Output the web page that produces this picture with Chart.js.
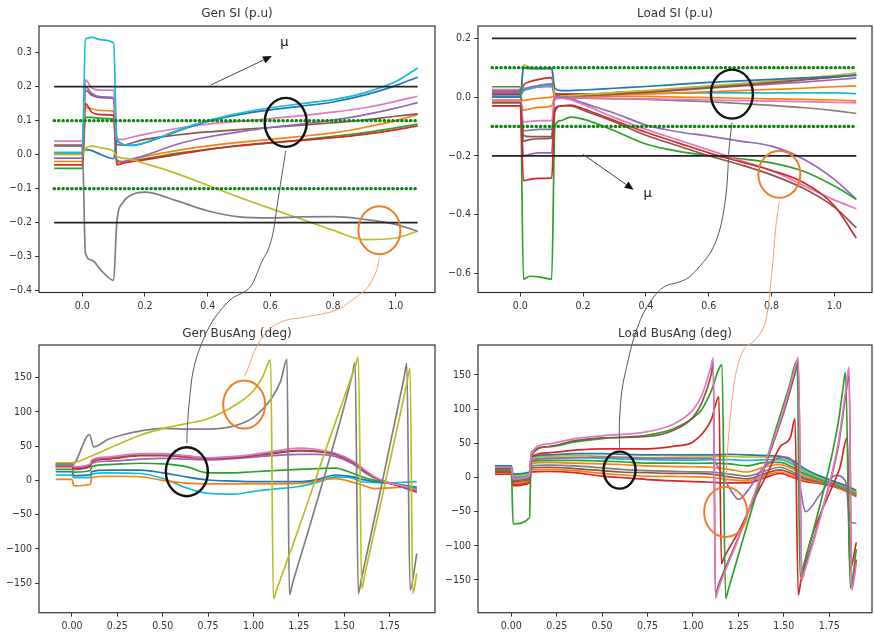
<!DOCTYPE html>
<html>
<head>
<meta charset="utf-8">
<style>
  body { margin: 0; background: #fff; }
  #wrap { position: relative; width: 874px; height: 637px; overflow: hidden; }
  #wrap canvas { position: absolute; }
</style>
</head>
<body>
<div id="wrap">
  <canvas id="genSI" width="437" height="320" style="left:0;top:0"></canvas>
  <canvas id="loadSI" width="437" height="320" style="left:437px;top:0"></canvas>
  <canvas id="genAng" width="437" height="317" style="left:0;top:320px"></canvas>
  <canvas id="loadAng" width="437" height="317" style="left:437px;top:320px"></canvas>
  <canvas id="links" width="874" height="637" style="left:0;top:0;pointer-events:none"></canvas>
</div>

<script src="https://cdn.jsdelivr.net/npm/chart.js"></script>
<script>
// ---- time axes ----
const tTop = [-0.09, 0, 0.01, 0.03, 0.06, 0.1, 0.11, 0.13, 0.16, 0.2, 0.3, 0.4, 0.5, 0.6, 0.7, 0.8, 0.9, 1.0, 1.07];
const tRef = [-0.09, 1.07];

// ---- Gen SI (p.u) ----
const gsCyan   = [0.007, 0.007, 0.34, 0.345, 0.338, 0.328, 0.05, 0.03, 0.028, 0.035, 0.07, 0.1, 0.122, 0.138, 0.15, 0.162, 0.182, 0.215, 0.255];
const gsBlue   = [0.005, 0.005, 0.015, 0.012, 0.0, -0.012, 0.04, 0.03, 0.027, 0.035, 0.068, 0.098, 0.118, 0.132, 0.143, 0.155, 0.175, 0.203, 0.228];
const gsPink   = [0.04, 0.04, 0.22, 0.197, 0.19, 0.19, 0.045, 0.045, 0.052, 0.06, 0.077, 0.09, 0.098, 0.106, 0.115, 0.125, 0.138, 0.157, 0.172];
const gsPurple = [-0.01, -0.01, 0.2, 0.18, 0.17, 0.168, -0.015, -0.02, -0.012, -0.002, 0.03, 0.052, 0.067, 0.08, 0.09, 0.102, 0.117, 0.137, 0.153];
const gsBrown  = [0.028, 0.028, 0.19, 0.175, 0.168, 0.165, 0.03, 0.028, 0.035, 0.045, 0.058, 0.067, 0.074, 0.08, 0.087, 0.094, 0.102, 0.113, 0.12];
const gsOrange = [-0.02, -0.02, 0.14, 0.135, 0.13, 0.128, -0.025, -0.022, -0.015, -0.005, 0.012, 0.026, 0.036, 0.045, 0.054, 0.064, 0.08, 0.1, 0.118];
const gsRed    = [-0.03, -0.03, 0.15, 0.125, 0.118, 0.115, -0.03, -0.025, -0.02, -0.015, 0.0, 0.015, 0.027, 0.035, 0.042, 0.05, 0.06, 0.073, 0.085];
const gsGreen  = [-0.04, -0.04, 0.11, 0.11, 0.107, 0.105, -0.02, -0.022, -0.018, -0.012, 0.004, 0.016, 0.026, 0.035, 0.044, 0.054, 0.065, 0.079, 0.09];
const gsOlive  = [0.0, 0.0, 0.018, 0.025, 0.02, 0.01, -0.005, -0.01, -0.015, -0.026, -0.055, -0.09, -0.125, -0.158, -0.19, -0.222, -0.25, -0.245, -0.225];
const gsGray   = [0.025, 0.025, -0.29, -0.31, -0.34, -0.37, -0.2, -0.14, -0.117, -0.11, -0.135, -0.165, -0.183, -0.186, -0.183, -0.182, -0.19, -0.205, -0.225];

// ---- Load SI (p.u) ----
const lsGreen   = [0.035, 0.035, -0.62, -0.61, -0.612, -0.62, -0.1, -0.08, -0.068, -0.075, -0.115, -0.16, -0.184, -0.199, -0.21, -0.224, -0.252, -0.303, -0.348];
const lsRed     = [-0.03, -0.03, -0.285, -0.28, -0.277, -0.275, -0.05, -0.03, -0.027, -0.04, -0.08, -0.12, -0.155, -0.19, -0.22, -0.25, -0.29, -0.37, -0.48];
const lsBrown   = [-0.02, -0.02, -0.15, -0.145, -0.142, -0.14, -0.04, -0.03, -0.03, -0.045, -0.085, -0.13, -0.165, -0.2, -0.23, -0.265, -0.31, -0.375, -0.445];
const lsPink    = [-0.01, -0.01, -0.085, -0.083, -0.08, -0.08, -0.01, -0.005, -0.01, -0.025, -0.07, -0.11, -0.145, -0.18, -0.215, -0.25, -0.3, -0.35, -0.38];
const lsPurple  = [0.02, 0.02, -0.2, -0.195, -0.19, -0.19, 0.0, 0.0, -0.005, -0.02, -0.055, -0.095, -0.118, -0.133, -0.15, -0.167, -0.21, -0.28, -0.348];
const lsBlue    = [0.0, 0.0, 0.1, 0.097, 0.097, 0.098, 0.03, 0.022, 0.022, 0.024, 0.03, 0.036, 0.043, 0.05, 0.055, 0.06, 0.065, 0.07, 0.074];
const lsOlive   = [-0.03, -0.03, 0.11, 0.1, 0.097, 0.096, 0.0, 0.003, 0.005, 0.008, 0.015, 0.022, 0.03, 0.038, 0.046, 0.055, 0.064, 0.074, 0.082];
const lsRed2    = [0.01, 0.01, 0.04, 0.052, 0.06, 0.066, 0.012, 0.01, 0.01, 0.01, 0.015, 0.02, 0.028, 0.036, 0.044, 0.052, 0.06, 0.068, 0.075];
const lsPurple2 = [0.015, 0.015, 0.025, 0.033, 0.04, 0.045, 0.01, 0.008, 0.008, 0.008, 0.012, 0.017, 0.023, 0.03, 0.037, 0.044, 0.051, 0.059, 0.065];
const lsCyan    = [0.005, 0.005, 0.02, 0.028, 0.035, 0.04, 0.01, 0.01, 0.01, 0.01, 0.011, 0.012, 0.013, 0.014, 0.014, 0.014, 0.014, 0.014, 0.012];
const lsOrange  = [0.0, 0.0, -0.012, -0.008, -0.004, 0.0, 0.005, 0.005, 0.005, 0.006, 0.008, 0.011, 0.014, 0.018, 0.022, 0.026, 0.03, 0.035, 0.038];
const lsOrange2 = [-0.015, -0.015, -0.045, -0.04, -0.035, -0.03, 0.0, 0.003, 0.003, 0.003, 0.003, 0.002, 0.0, -0.002, -0.004, -0.006, -0.008, -0.01, -0.013];
const lsPink2   = [0.025, 0.025, 0.03, 0.032, 0.034, 0.035, 0.0, 0.0, -0.001, -0.002, -0.004, -0.006, -0.008, -0.01, -0.012, -0.014, -0.016, -0.018, -0.02];
const lsGray    = [-0.01, -0.01, -0.115, -0.113, -0.11, -0.11, 0.0, -0.002, -0.003, -0.004, -0.006, -0.008, -0.012, -0.016, -0.022, -0.028, -0.036, -0.046, -0.056];
const lsBrown2  = [0.02, 0.02, -0.13, -0.135, -0.135, -0.135, 0.002, 0.003, 0.004, 0.005, 0.01, 0.016, 0.024, 0.032, 0.04, 0.049, 0.058, 0.068, 0.076];

// ---- limit lines of the SI panels ----
const siLimit = [0.2, -0.2];
const siBand  = [0.1, -0.1];

// ---- Gen BusAng (deg) ----
const tGA = [-0.09, 0, 0.01, 0.1, 0.11, 0.2, 0.375, 0.5, 0.63, 0.75, 0.9, 1.0, 1.1, 1.25, 1.35, 1.45, 1.55, 1.6, 1.67, 1.75, 1.82, 1.9];
const gaPink   = [22, 22, 20, 24, 30, 34, 39, 39, 36, 33, 35, 38, 42, 47, 45, 40, 28, 18, 5, -4, -8, -14];
const gaRed    = [20, 20, 17, 21, 27, 31, 36, 36, 34, 32, 33, 36, 39, 43, 42, 38, 26, 16, 4, -4, -9, -16];
const gaPurple = [22, 22, 16, 20, 25, 28, 31, 32, 31, 30, 32, 34, 36, 38, 38, 35, 24, 14, 3, -4, -10, -18];
const gaBrown  = [24, 24, 19, 23, 29, 33, 37, 37, 35, 33, 34, 37, 40, 44, 43, 39, 27, 17, 4, -4, -9, -15];
const gaGreen  = [16, 16, 12, 14, 20, 23, 25, 24, 20, 11, 11, 12.6, 14, 16, 17, 18, 10, 5, 0, -4, -8, -12];
const gaBlue   = [12.6, 12.6, 7, 8, 13, 15, 15, 11, 5, 0.5, -1, -2, -2, -2, 1, 7.8, 5, 1.5, -2, -4.4, -7, -10];
const gaCyan   = [7.7, 7.7, 4, 4, 9, 11, 10, 3, -11, -19, -20, -16, -13, -9, -3, 5, 3, -2, -3, -4, -3, -2];
const gaOrange = [1.5, 1.5, -8, -6, 4, 6, 5.3, 0, -4, -5, -5, -5, -5, -4.4, -1, 3, -3, -6.8, -12, -11, -10, -12];
const gaOliveT = [-0.09, 0, 0.11, 0.375, 0.5, 0.63, 0.75, 0.9, 1.0, 1.05, 1.095, 1.11, 1.13, 1.25, 1.4, 1.5, 1.56, 1.578, 1.597, 1.615, 1.7, 1.8, 1.845, 1.863, 1.878, 1.9];
const gaOlive  = [25.7, 25.7, 36, 66, 75.7, 83, 90, 110, 131, 151, 176, -173, -158, -70, 46, 121, 166, 180, -158, -136, -35, 86, 142, 164, -165, -136];
const gaGrayT  = [-0.09, 0, 0.097, 0.119, 0.2, 0.3, 0.375, 0.5, 0.63, 0.75, 0.9, 1.0, 1.1, 1.15, 1.185, 1.198, 1.215, 1.3, 1.4, 1.5, 1.545, 1.56, 1.578, 1.595, 1.7, 1.8, 1.83, 1.845, 1.863, 1.9];
const gaGray   = [22, 22, 67, 49, 60, 68, 72, 76, 75, 75, 80, 92, 120, 145, 177, -167, -151, -76, 14, 108, 155, 172, -165, -144, -15, 112, 150, 171, -160, -107];

// ---- Load BusAng (deg) ----
const tLA = [-0.09, 0, 0.01, 0.1, 0.11, 0.2, 0.35, 0.5, 0.6, 0.75, 0.9, 1.0, 1.1, 1.2, 1.3, 1.4, 1.48, 1.55, 1.62, 1.7, 1.78, 1.85, 1.9];
const laBlue    = [17, 17, 5, 8, 30, 33, 35, 35, 34, 33, 33, 33, 33, 34, 33, 32, 31, 25, 12, 2, -6, -13, -19];
const laOlive   = [15, 15, 3, 6, 28, 31, 32, 31, 30, 29, 29.5, 30, 30, 31, 30, 30, 29, 22, 10, 0, -7, -14, -21];
const laCyan    = [14, 14, 1, 4, 26, 28, 29, 28, 27, 26, 25.5, 25.5, 26, 26, 25, 26, 26, 19, 8, -1, -8, -15, -22];
const laGreen   = [13, 13, 0, 3, 23, 25, 25, 24, 23, 21, 21, 20.6, 21, 20, 17, 22, 22, 15, 5, -3, -9, -16, -23];
const laOrange  = [12, 12, -2, 1, 20, 22, 21, 20, 19, 17, 16, 15.7, 15, 12, 8, 16, 19, 12, 3, -4, -10, -17, -24];
const laGray    = [10, 10, -4, -1, 17, 18, 17, 14, 12, 10, 9, 8.3, 8, 5, 2, 10, 15, 8, 0, -6, -11, -18, -25];
const laBrown   = [9, 9, -6, -3, 14, 15, 13, 10, 8, 7, 6, 6, 5, 1, -2, 6, 11, 5, -2, -7, -12, -19, -26];
const laOrange2 = [7, 7, -8, -5, 11, 12, 10, 6, 4, 2, 1.5, 1, 0, -3, -5, 3, 8, 2, -4, -8, -13, -20, -27];
const laRed     = [5, 5, -10, -7, 8, 9, 7, 2, 0, -3, -5, -6, -7, -8, -8, 0, 6, 0, -6, -9, -14, -21, -28];
const laPurpleT = [-0.09, 0, 0.01, 0.1, 0.11, 0.2, 0.5, 0.75, 1.0, 1.1, 1.15, 1.2, 1.252, 1.3, 1.38, 1.45, 1.5, 1.56, 1.59, 1.62, 1.7, 1.785, 1.84, 1.867, 1.9];
const laPurple  = [14, 14, -3, 0, 25, 28, 30, 28, 28, 28, 10, -15, -32, -20, 12, 26, 30, 18, -15, -50, -25, 3, -5, -65, -67];
const laPinkT   = [-0.09, 0, 0.01, 0.1, 0.11, 0.2, 0.35, 0.5, 0.75, 0.9, 1.0, 1.05, 1.1, 1.112, 1.124, 1.14, 1.25, 1.39, 1.5, 1.56, 1.58, 1.6, 1.615, 1.7, 1.8, 1.84, 1.86, 1.874, 1.9];
const laPink    = [15, 15, -2, 2, 35, 49, 57, 61, 67, 79, 99, 121, 163, 175, -177, -163, -90, 15, 100, 158, 176, -150, -137, -60, 50, 125, 162, -165, -125];
const laBrown2  = [13, 13, -4, 0, 32, 45, 54, 58, 60, 70, 88, 110, 150, 168, -172, -158, -88, 12, 95, 150, 168, -145, -132, -58, 45, 118, 150, -158, -120];
const laGreenT  = [-0.09, 0, 0.01, 0.1, 0.11, 0.2, 0.35, 0.5, 0.75, 0.9, 1.0, 1.05, 1.1, 1.16, 1.18, 1.195, 1.3, 1.45, 1.53, 1.574, 1.59, 1.605, 1.7, 1.8, 1.825, 1.84, 1.867, 1.9];
const laGreen2  = [10, 10, -68, -59, 37, 45, 52, 57, 62, 72, 87, 100, 126, 165, -177, -164, -68, 65, 133, 171, -145, -133, -40, 80, 128, 154, -162, -105];
const laRedT    = [-0.09, 0, 0.01, 0.1, 0.11, 0.2, 0.35, 0.5, 0.75, 0.9, 1.0, 1.1, 1.143, 1.157, 1.17, 1.25, 1.35, 1.41, 1.48, 1.537, 1.562, 1.58, 1.595, 1.648, 1.758, 1.81, 1.85, 1.864, 1.9];
const laRed2    = [8, 8, -12, -8, 30, 36, 40, 42, 42, 46, 52, 84, 118, -126, -118, -80, -25, 6, 45, 59, 86, -172, -150, -92, -19, 15, 59, -135, -95];

// ---- ticks ----
const siXTicks  = [0, 0.2, 0.4, 0.6, 0.8, 1.0];
const siXLabels = ['0.0', '0.2', '0.4', '0.6', '0.8', '1.0'];
const gsYTicks  = [-0.4, -0.3, -0.2, -0.1, 0, 0.1, 0.2, 0.3];
const gsYLabels = ['\u22120.4', '\u22120.3', '\u22120.2', '\u22120.1', '0.0', '0.1', '0.2', '0.3'];
const lsYTicks  = [-0.6, -0.4, -0.2, 0, 0.2];
const lsYLabels = ['\u22120.6', '\u22120.4', '\u22120.2', '0.0', '0.2'];
const angXTicks  = [0, 0.25, 0.5, 0.75, 1.0, 1.25, 1.5, 1.75];
const angXLabels = ['0.00', '0.25', '0.50', '0.75', '1.00', '1.25', '1.50', '1.75'];
const angYTicks  = [-150, -100, -50, 0, 50, 100, 150];
const angYLabels = ['\u2212150', '\u2212100', '\u221250', '0', '50', '100', '150'];

const C = {blue: '#1f77b4', orange: '#ff7f0e', green: '#2ca02c', red: '#d62728', purple: '#9467bd',
           brown: '#8c564b', pink: '#e377c2', gray: '#7f7f7f', olive: '#bcbd22', cyan: '#17becf'};

function pts(t, v) { return v.map((y, i) => ({x: t[i], y: y})); }
function series(t, v, color) {
    return {data: pts(t, v), borderColor: color, borderWidth: 1.7, pointRadius: 0,
            cubicInterpolationMode: 'monotone', fill: false};
}
function limitSets(lim, band) {
    const out = [];
    lim.forEach(v => out.push({data: pts(tRef, [v, v]), borderColor: '#222', borderWidth: 1.8, pointRadius: 0}));
    band.forEach(v => out.push({data: pts(tRef, [v, v]), borderColor: '#0a880a', borderWidth: 3.2,
        borderDash: [0.4, 4.0], borderCapStyle: 'round', pointRadius: 0}));
    return out;
}

const TICKFONT = {family: '"DejaVu Sans Condensed", "DejaVu Sans", sans-serif', size: 10.5};

// frame, title, circles, arrows drawn in data space of each panel
const decor = {
    id: 'decor',
    afterDatasetsDraw(chart, args, o) {
        const {ctx, chartArea: a, scales: {x, y}} = chart;
        ctx.save();
        ctx.strokeStyle = '#333';
        ctx.lineWidth = 1.2;
        ctx.strokeRect(a.left, a.top, a.right - a.left, a.bottom - a.top);
        ctx.fillStyle = '#333';
        ctx.font = '12px "DejaVu Sans", sans-serif';
        ctx.textAlign = 'center';
        ctx.textBaseline = 'middle';
        ctx.fillText(o.title, (a.left + a.right) / 2, o.titleY);
        (o.rings || []).forEach(r => {
            ctx.beginPath();
            ctx.ellipse(x.getPixelForValue(r.x), y.getPixelForValue(r.y), r.rx, r.ry, 0, 0, 2 * Math.PI);
            ctx.strokeStyle = r.color;
            ctx.lineWidth = r.w;
            ctx.stroke();
        });
        if (o.arrow) {
            const x1 = x.getPixelForValue(o.arrow[0]), y1 = y.getPixelForValue(o.arrow[1]);
            const x2 = x.getPixelForValue(o.arrow[2]), y2 = y.getPixelForValue(o.arrow[3]);
            const ang = Math.atan2(y2 - y1, x2 - x1), L = 9, W = 3.8;
            const bx = x2 - L * Math.cos(ang), by = y2 - L * Math.sin(ang);
            ctx.strokeStyle = '#444';
            ctx.lineWidth = 1;
            ctx.beginPath(); ctx.moveTo(x1, y1); ctx.lineTo(bx, by); ctx.stroke();
            ctx.fillStyle = '#111';
            ctx.beginPath();
            ctx.moveTo(x2, y2);
            ctx.lineTo(bx + W * Math.sin(ang), by - W * Math.cos(ang));
            ctx.lineTo(bx - W * Math.sin(ang), by + W * Math.cos(ang));
            ctx.closePath(); ctx.fill();
            ctx.font = '13px "DejaVu Sans", sans-serif';
            ctx.textAlign = 'left';
            ctx.fillText('\u03bc', x.getPixelForValue(o.mu[0]), y.getPixelForValue(o.mu[1]));
        }
        ctx.restore();
    }
};

function panel(id, sets, xr, yr, xt, xl, yt, yl, yW, xH, deco) {
    const fix = (ticks) => (s) => { s.ticks = ticks.map(v => ({value: v})); };
    return new Chart(document.getElementById(id), {
        type: 'line',
        data: {datasets: sets},
        plugins: [decor],
        options: {
            responsive: false,
            animation: false,
            layout: {padding: {top: deco.padTop, right: 2, left: 0, bottom: 0}},
            plugins: {legend: {display: false}, tooltip: {enabled: false}, decor: deco},
            scales: {
                x: {type: 'linear', min: xr[0], max: xr[1],
                    afterBuildTicks: fix(xt), afterFit: (s) => { s.height = xH; },
                    grid: {drawOnChartArea: false, drawTicks: true, tickLength: 4, color: '#333'},
                    border: {display: false},
                    ticks: {callback: (v, i) => xl[i], font: TICKFONT, color: '#333', padding: 3, maxRotation: 0, autoSkip: false}},
                y: {type: 'linear', min: yr[0], max: yr[1],
                    afterBuildTicks: fix(yt), afterFit: (s) => { s.width = yW; },
                    grid: {drawOnChartArea: false, drawTicks: true, tickLength: 4, color: '#333'},
                    border: {display: false},
                    ticks: {callback: (v, i) => yl[i], font: TICKFONT, color: '#333', padding: 3, autoSkip: false}}
            }
        }
    });
}

const genSIRings  = [{x: 0.649, y: 0.095, rx: 21, ry: 24.5, color: '#111', w: 2.4},
                     {x: 0.948, y: -0.222, rx: 21, ry: 24, color: '#f07d28', w: 2}];
const loadSIRings = [{x: 0.674, y: 0.01, rx: 21, ry: 24.5, color: '#111', w: 2.4},
                     {x: 0.825, y: -0.263, rx: 21, ry: 23.5, color: '#f07d28', w: 2}];
const genAngRings = [{x: 0.633, y: 12.6, rx: 21, ry: 24.5, color: '#111', w: 2.4},
                     {x: 0.949, y: 110.7, rx: 21, ry: 24, color: '#f07d28', w: 2}];
const loadAngRings = [{x: 0.596, y: 10.8, rx: 16, ry: 18.5, color: '#111', w: 2.4},
                      {x: 1.18, y: -50.5, rx: 21.5, ry: 25, color: '#f07d28', w: 2}];

const chGenSI = panel('genSI',
    limitSets(siLimit, siBand).concat([
        series(tTop, gsGray, C.gray), series(tTop, gsOlive, C.olive), series(tTop, gsCyan, C.cyan),
        series(tTop, gsBlue, C.blue), series(tTop, gsPink, C.pink), series(tTop, gsPurple, C.purple),
        series(tTop, gsBrown, C.brown), series(tTop, gsRed, C.red), series(tTop, gsOrange, C.orange),
        series(tTop, gsGreen, C.green)]),
    [-0.1382, 1.1254], [-0.4053, 0.3785], siXTicks, siXLabels, gsYTicks, gsYLabels, 39, 27.5,
    {padTop: 26, title: 'Gen SI (p.u)', titleY: 14, rings: genSIRings,
     arrow: [0.41, 0.205, 0.605, 0.29], mu: [0.632, 0.33]});

const chLoadSI = panel('loadSI',
    limitSets(siLimit, siBand).concat([
        series(tTop, lsRed, C.red), series(tTop, lsBrown, C.brown), series(tTop, lsPink, C.pink),
        series(tTop, lsGreen, C.green), series(tTop, lsPurple, C.purple),
        series(tTop, lsBlue, C.blue), series(tTop, lsOlive, C.olive), series(tTop, lsBrown2, C.brown),
        series(tTop, lsRed2, C.red), series(tTop, lsPurple2, C.purple), series(tTop, lsOrange, C.orange),
        series(tTop, lsCyan, C.cyan), series(tTop, lsOrange2, C.orange), series(tTop, lsPink2, C.pink),
        series(tTop, lsGray, C.gray)]),
    [-0.1347, 1.12], [-0.6654, 0.2419], siXTicks, siXLabels, lsYTicks, lsYLabels, 41, 27.5,
    {padTop: 26, title: 'Load SI (p.u)', titleY: 14, rings: loadSIRings,
     arrow: [0.2, -0.195, 0.361, -0.316], mu: [0.392, -0.33]});

const chGenAng = panel('genAng', [
        series(gaOliveT, gaOlive, C.olive), series(gaGrayT, gaGray, C.gray),
        series(tGA, gaPink, C.pink), series(tGA, gaBrown, C.brown), series(tGA, gaRed, C.red),
        series(tGA, gaPurple, C.purple), series(tGA, gaGreen, C.green), series(tGA, gaBlue, C.blue),
        series(tGA, gaOrange, C.orange), series(tGA, gaCyan, C.cyan)],
    [-0.1817, 2.0005], [-193.4, 197.8], angXTicks, angXLabels, angYTicks, angYLabels, 39, 24.3,
    {padTop: 25, title: 'Gen BusAng (deg)', titleY: 14, rings: genAngRings});

const chLoadAng = panel('loadAng', [
        series(laPinkT, laPink, C.pink), series(laPinkT, laBrown2, C.brown),
        series(laGreenT, laGreen2, C.green), series(laRedT, laRed2, C.red),
        series(laPurpleT, laPurple, C.purple),
        series(tLA, laBlue, C.blue), series(tLA, laOlive, C.olive), series(tLA, laCyan, C.cyan),
        series(tLA, laGreen, C.green), series(tLA, laOrange, C.orange), series(tLA, laGray, C.gray),
        series(tLA, laBrown, C.brown), series(tLA, laOrange2, C.orange), series(tLA, laRed, C.red)],
    [-0.1834, 1.986], [-197.9, 193.9], angXTicks, angXLabels, angYTicks, angYLabels, 41, 24.3,
    {padTop: 25, title: 'Load BusAng (deg)', titleY: 14, rings: loadAngRings});

// ---- connectors between circles (page overlay) ----
function ringEnd(chart, ring, side) {
    const cv = chart.canvas;
    const px = cv.offsetLeft + chart.scales.x.getPixelForValue(ring.x);
    const py = cv.offsetTop + chart.scales.y.getPixelForValue(ring.y) + (side === 'bottom' ? ring.ry + 4 : -ring.ry - 4);
    return [px, py];
}
const links = [
    {color: '#555', from: [chGenSI, genSIRings[0]], to: [chGenAng, genAngRings[0]],
     via: [[278, 200], [273, 233], [268, 250], [261.7, 262], [251.7, 285], [241.7, 293.3], [230, 300], [213.3, 320],
           [201.7, 343.3], [193.3, 370], [189.5, 400], [187.5, 425]]},
    {color: '#f5a070', from: [chGenSI, genSIRings[1]], to: [chGenAng, genAngRings[1]],
     via: [[376, 272], [368, 287], [360, 294], [336.7, 310], [306.7, 316.7], [283.3, 321], [266.7, 331.7],
           [255, 350], [248.3, 368]]},
    {color: '#555', from: [chLoadSI, loadSIRings[0]], to: [chLoadAng, loadAngRings[0]],
     via: [[729, 150], [726.5, 190], [721, 225], [712, 250], [700, 266], [688, 278], [676.7, 282.7], [666.7, 285.5],
           [656.7, 293.3], [643.3, 313.3], [633.3, 340], [626.7, 366.7], [622, 390], [619.5, 420]]},
    {color: '#f5a070', from: [chLoadSI, loadSIRings[1]], to: [chLoadAng, loadAngRings[1]],
     via: [[776, 225], [773.5, 255], [771.7, 273.3], [768.3, 306.7], [763.3, 328.3], [753.3, 341.7], [745, 347.5],
           [738.3, 363.3], [733.3, 390], [728.3, 440]]}
];

const lctx = document.getElementById('links').getContext('2d');
links.forEach(l => {
    const p = [ringEnd(l.from[0], l.from[1], 'bottom')].concat(l.via, [ringEnd(l.to[0], l.to[1], 'top')]);
    lctx.beginPath();
    lctx.moveTo(p[0][0], p[0][1]);
    for (let i = 0; i < p.length - 1; i++) {
        const p0 = p[i - 1] || p[i], p1 = p[i], p2 = p[i + 1], p3 = p[i + 2] || p2;
        lctx.bezierCurveTo(p1[0] + (p2[0] - p0[0]) / 6, p1[1] + (p2[1] - p0[1]) / 6,
                           p2[0] - (p3[0] - p1[0]) / 6, p2[1] - (p3[1] - p1[1]) / 6, p2[0], p2[1]);
    }
    lctx.strokeStyle = l.color;
    lctx.lineWidth = 1;
    lctx.stroke();
});
</script>
</body>
</html>
